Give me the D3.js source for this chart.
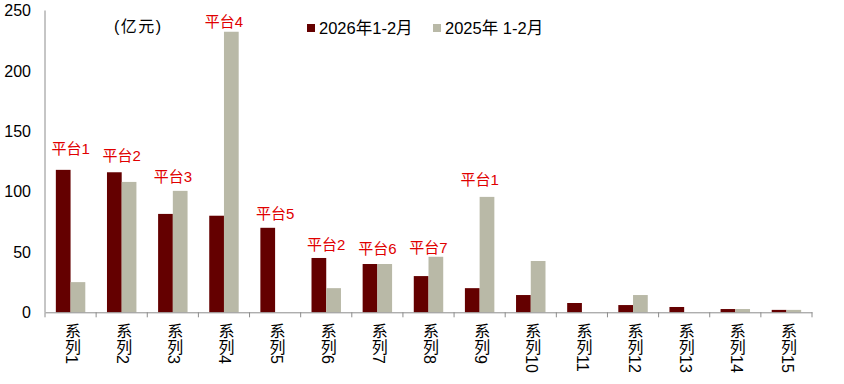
<!DOCTYPE html>
<html>
<head>
<meta charset="utf-8">
<script src="https://cdn.jsdelivr.net/npm/d3@7"></script>
<style>
  body { margin: 0; background: #fff; }
  svg { display: block; font-family: "Liberation Sans", Arial, "Noto Sans CJK SC", sans-serif; }
</style>
</head>
<body>
<svg width="844" height="384"></svg>
<script>
const categories = ["系列1", "系列2", "系列3", "系列4", "系列5", "系列6", "系列7", "系列8",
    "系列9", "系列10", "系列11", "系列12", "系列13", "系列14", "系列15"];
const values2026 = [118, 116, 81.5, 80, 70, 45, 40, 30, 20, 14.3, 7.7, 6, 4.4, 2.7, 2];
const values2025 = [25, 108, 100.6, 232.4, 0, 20, 40, 46, 95.6, 42.5, 0, 14.3, 0, 2.7, 2];
const seriesNames = ["2026年1-2月", "2025年 1-2月"];
const yTicks = [0, 50, 100, 150, 200, 250];

// platform notes: category index, text, value level of the note
const notes = [
    { i: 0, text: "平台1", v: 136 },
    { i: 1, text: "平台2", v: 130 },
    { i: 2, text: "平台3", v: 112 },
    { i: 3, text: "平台4", v: 241 },
    { i: 4, text: "平台5", v: 82 },
    { i: 5, text: "平台2", v: 56 },
    { i: 6, text: "平台6", v: 52.5 },
    { i: 7, text: "平台7", v: 54 },
    { i: 8, text: "平台1", v: 110 }
];

const colors = ["#640000", "#b9b9a7"];

const attr_area = { left: 45, right: 812, top: 10.5, bottom: 312.3 };

const svg = d3.select("svg");

const scaleX = d3.scaleBand()
    .domain(categories)
    .range([attr_area.left, attr_area.right]);

const scaleY = d3.scaleLinear()
    .domain([0, 250])
    .range([attr_area.bottom, attr_area.top]);

const barW = scaleX.bandwidth() * 0.288;

// y axis
svg.append("line")
    .attr("x1", attr_area.left).attr("x2", attr_area.left)
    .attr("y1", attr_area.top).attr("y2", attr_area.bottom)
    .attr("stroke", "#8c8c8c").attr("stroke-width", 1);

svg.append("g")
    .selectAll("text")
    .data(yTicks)
    .enter()
    .append("text")
    .attr("x", 31)
    .attr("y", d => scaleY(d))
    .attr("dy", "0.36em")
    .attr("text-anchor", "end")
    .attr("font-size", 16)
    .attr("fill", "#000")
    .text(d => d);

// bars
const drawRects = (vals, color, offset) => {
    svg.append("g")
        .selectAll("rect")
        .data(categories)
        .enter()
        .append("rect")
        .attr("x", (d, i) => scaleX(d) + scaleX.bandwidth() / 2 + offset * barW)
        .attr("y", (d, i) => scaleY(vals[i]))
        .attr("width", barW)
        .attr("height", (d, i) => attr_area.bottom - scaleY(vals[i]))
        .attr("fill", color);
};
drawRects(values2026, colors[0], -1);
drawRects(values2025, colors[1], 0);

// x axis
const axisX = d3.axisBottom(scaleX).tickSize(0).tickFormat("");
const gx = svg.append("g")
    .attr("transform", `translate(0, ${attr_area.bottom})`)
    .call(axisX);
gx.select(".domain").attr("stroke", "#8c8c8c");

svg.append("g")
    .selectAll("line")
    .data(categories.concat(["end"]))
    .enter()
    .append("line")
    .attr("x1", (d, i) => attr_area.left + i * scaleX.step())
    .attr("x2", (d, i) => attr_area.left + i * scaleX.step())
    .attr("y1", attr_area.bottom)
    .attr("y2", attr_area.bottom + 5)
    .attr("stroke", "#8c8c8c");

// vertical category labels
svg.append("g")
    .selectAll("text")
    .data(categories)
    .enter()
    .append("text")
    .attr("transform", d => `translate(${scaleX(d) + scaleX.bandwidth() / 2 + 1}, 323)`)
    .style("writing-mode", "vertical-rl")
    .attr("dominant-baseline", "central")
    .attr("font-size", 16)
    .attr("fill", "#000")
    .text(d => d);

// notes
svg.append("g")
    .selectAll("text")
    .data(notes)
    .enter()
    .append("text")
    .attr("x", d => scaleX(categories[d.i]) + scaleX.bandwidth() / 2)
    .attr("y", d => scaleY(d.v))
    .attr("dy", "0.36em")
    .attr("text-anchor", "middle")
    .attr("font-size", 15)
    .attr("fill", "#e00000")
    .text(d => d.text);

// unit
svg.append("text")
    .attr("x", 114)
    .attr("y", 26)
    .attr("dy", "0.36em")
    .attr("font-size", 16)
    .attr("letter-spacing", 1.5)
    .attr("fill", "#000")
    .text("(亿元)");

// legend
const legend = svg.append("g");
const legendX = [307, 433];
seriesNames.forEach((name, k) => {
    legend.append("rect")
        .attr("x", legendX[k])
        .attr("y", 24)
        .attr("width", 8)
        .attr("height", 8)
        .attr("fill", colors[k]);
    legend.append("text")
        .attr("x", legendX[k] + 12)
        .attr("y", 28.5)
        .attr("dy", "0.36em")
        .attr("font-size", 16.5)
        .attr("fill", "#000")
        .text(name);
});
</script>
</body>
</html>
